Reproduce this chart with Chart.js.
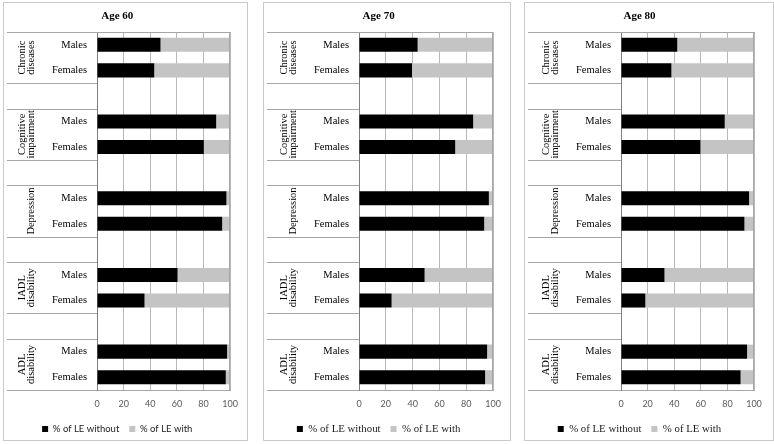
<!DOCTYPE html>
<html>
<head>
<meta charset="utf-8">
<title>Life expectancy with and without conditions</title>
<script src="https://cdn.jsdelivr.net/npm/chart.js@4.4.1/dist/chart.umd.min.js"></script>
<style>
  html, body { margin: 0; padding: 0; background: #fff; overflow: hidden; }
  #stage { position: relative; width: 774px; height: 444px; overflow: hidden; }
  .frame { position: absolute; box-sizing: border-box; border: 1px solid #c9c9c9; }
  canvas { position: absolute; }
</style>
</head>
<body>
<div id="stage"></div>
<script>
// Rows of the category axis (blank rows are the gaps between groups)
const rowLabels = ['Males', 'Females', '', 'Males', 'Females', '', 'Males', 'Females', '', 'Males', 'Females', '', 'Males', 'Females'];
const groupLabels = [['Chronic', 'diseases'], ['Cognitive', 'impairment'], ['Depression'], ['IADL', 'disability'], ['ADL', 'disability']];
const groupRows = [0, 3, 6, 9, 12];
const xTicks = [0, 20, 40, 60, 80, 100];
const seriesNames = ['% of LE without', '% of LE with'];
const ageTitles = ['Age 60', 'Age 70', 'Age 80'];

// % of life expectancy without / with each condition
const without60 = [47.7, 43.0, null, 89.5, 80.2, null, 97.2, 94.0, null, 60.5, 35.7, null, 97.7, 96.7];
const with60 = [52.3, 57.0, null, 10.5, 19.8, null, 2.8, 6.0, null, 39.5, 64.3, null, 2.3, 3.3];
const without70 = [43.7, 39.5, null, 85.1, 71.7, null, 96.8, 93.3, null, 48.9, 24.3, null, 95.5, 94.0];
const with70 = [56.3, 60.5, null, 14.9, 28.3, null, 3.2, 6.7, null, 51.1, 75.7, null, 4.5, 6.0];
const without80 = [42.3, 37.9, null, 78.0, 59.7, null, 96.3, 92.8, null, 32.7, 18.3, null, 94.8, 89.9];
const with80 = [57.7, 62.1, null, 22.0, 40.3, null, 3.7, 7.2, null, 67.3, 81.7, null, 5.2, 10.1];

const serif = '"Liberation Serif", "Times New Roman", serif';
const sans = 'Lato, "Liberation Sans", sans-serif';

// Panel placement on the page
const panels = [
  { title: ageTitles[0], without: without60, withLE: with60, left: 3, width: 245, yWidth: 93, padRight: 16.5, legendFont: { family: sans, size: 9.5 } },
  { title: ageTitles[1], without: without70, withLE: with70, left: 263, width: 248, yWidth: 95, padRight: 16.7, legendFont: { family: serif, size: 10.8 } },
  { title: ageTitles[2], without: without80, withLE: with80, left: 524, width: 250, yWidth: 96, padRight: 19, legendFont: { family: serif, size: 10.8 } }
];

const CANVAS_TOP = 3;
const CANVAS_H = 444;
const PLOT_BOTTOM = 387;   // canvas coords
const LEGEND_MID = 426;    // canvas coords
const LEGEND_PAD = 10;

// Group names, separators and the plot frame
const groupPlugin = {
  id: 'groups',
  afterDatasetsDraw(chart) {
    const { ctx, chartArea } = chart;
    const y = chart.scales.y;
    const step = y.getPixelForValue(1) - y.getPixelForValue(0);
    const edges = [];
    groupRows.forEach(r => {
      edges.push(y.getPixelForValue(r) - step / 2);
      edges.push(y.getPixelForValue(r + 1) + step / 2);
    });

    ctx.save();
    ctx.strokeStyle = '#a6a6a6';
    ctx.lineWidth = 1;
    edges.forEach((e, i) => {
      const yy = Math.round(e) + 0.5;
      ctx.beginPath();
      ctx.moveTo(3, yy);
      ctx.lineTo(i === 0 ? chartArea.right : chartArea.left, yy);
      ctx.stroke();
    });
    const xr = Math.round(chartArea.right) - 0.5;
    ctx.beginPath();
    ctx.moveTo(xr, chartArea.top);
    ctx.lineTo(xr, chartArea.bottom);
    ctx.stroke();

    ctx.fillStyle = '#000';
    ctx.font = '10.5px ' + serif;
    ctx.textAlign = 'center';
    ctx.textBaseline = 'alphabetic';
    groupLabels.forEach((lines, g) => {
      const cy = (y.getPixelForValue(groupRows[g]) + y.getPixelForValue(groupRows[g] + 1)) / 2;
      lines.forEach((line, i) => {
        const x = chartArea.left - 63 - (lines.length - 1 - i) * 9;
        ctx.save();
        ctx.translate(x, cy);
        ctx.rotate(-Math.PI / 2);
        ctx.fillText(line, 0, 0);
        ctx.restore();
      });
    });
    ctx.restore();
  }
};

const stage = document.getElementById('stage');

panels.forEach(p => {
  const frame = document.createElement('div');
  frame.className = 'frame';
  frame.style.left = p.left + 'px';
  frame.style.top = '2px';
  frame.style.width = p.width + 'px';
  frame.style.height = '439px';
  stage.appendChild(frame);

  const canvas = document.createElement('canvas');
  const w = p.width - 2;
  canvas.width = w;
  canvas.height = CANVAS_H;
  canvas.style.left = (p.left + 1) + 'px';
  canvas.style.top = CANVAS_TOP + 'px';
  canvas.style.width = w + 'px';
  canvas.style.height = CANVAS_H + 'px';
  stage.appendChild(canvas);

  const itemH = p.legendFont.size;
  const legendTop = LEGEND_MID - LEGEND_PAD - itemH / 2;
  const legendBottom = legendTop + itemH + LEGEND_PAD + 10;

  new Chart(canvas, {
    type: 'bar',
    data: {
      labels: rowLabels,
      datasets: [
        { label: seriesNames[0], data: p.without, backgroundColor: '#000000', borderWidth: 0, barPercentage: 1, categoryPercentage: 0.55 },
        { label: seriesNames[1], data: p.withLE, backgroundColor: '#c4c4c4', borderWidth: 0, barPercentage: 1, categoryPercentage: 0.55 }
      ]
    },
    options: {
      indexAxis: 'y',
      responsive: false,
      devicePixelRatio: 1,
      animation: false,
      layout: { padding: { left: 0, right: p.padRight, top: 0, bottom: CANVAS_H - legendBottom } },
      plugins: {
        title: {
          display: true,
          text: p.title,
          color: '#000',
          font: { family: serif, size: 11, weight: 'bold' },
          padding: { top: 6.4, bottom: 9.4 }
        },
        legend: {
          position: 'bottom',
          labels: {
            boxWidth: 6,
            boxHeight: 6,
            padding: LEGEND_PAD,
            color: '#1a1a1a',
            font: p.legendFont
          }
        },
        tooltip: { enabled: false }
      },
      scales: {
        x: {
          stacked: true,
          min: 0,
          max: 100,
          afterBuildTicks: scale => { scale.ticks = xTicks.map(v => ({ value: v })); },
          afterFit: scale => { scale.height = legendTop - PLOT_BOTTOM; },
          ticks: { color: '#595959', font: { family: sans, size: 9 }, padding: 9, maxRotation: 0 },
          grid: { color: '#b8b8b8', drawTicks: false },
          border: { color: '#a6a6a6' }
        },
        y: {
          stacked: true,
          afterFit: scale => { scale.width = p.yWidth; },
          ticks: { color: '#000', font: { family: serif, size: 10.5 }, padding: 10, autoSkip: false },
          grid: { display: false, drawTicks: false },
          border: { color: '#7f7f7f' }
        }
      }
    },
    plugins: [groupPlugin]
  });
});
</script>
</body>
</html>
